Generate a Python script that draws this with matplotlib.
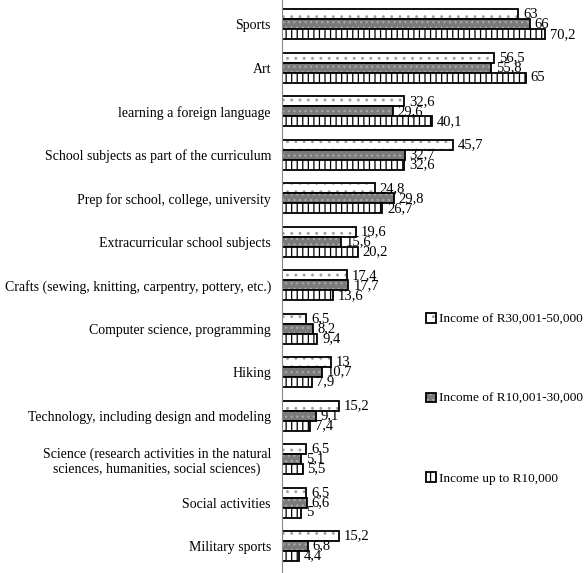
import matplotlib.pyplot as plt
import numpy as np

categories = ["Sports", "Art", "learning a foreign language",
              "School subjects as part of the curriculum",
              "Prep for school, college, university",
              "Extracurricular school subjects",
              "Crafts (sewing, knitting, carpentry, pottery, etc.)",
              "Computer science, programming", "Hiking",
              "Technology, including design and modeling",
              "Science (research activities in the natural\nsciences, humanities, social sciences)",
              "Social activities", "Military sports"]
series_names = ["Income of R30,001-50,000", "Income of R10,001-30,000", "Income up to R10,000"]
income_30_50 = [63, 56.5, 32.6, 45.7, 24.8, 19.6, 17.4, 6.5, 13, 15.2, 6.5, 6.5, 15.2]
income_10_30 = [66, 55.8, 29.6, 32.7, 29.8, 15.6, 17.7, 8.2, 10.7, 9.1, 5.1, 6.6, 6.8]
income_up_10 = [70.2, 65, 40.1, 32.6, 26.7, 20.2, 13.6, 9.4, 7.9, 7.4, 5.5, 5, 4.4]

plt.rcParams['font.family'] = 'Liberation Serif'
plt.rcParams['hatch.linewidth'] = 0.9

fig = plt.figure(figsize=(5.84, 5.73), dpi=100)
ax = fig.add_axes([282 / 584, 0.0, 300 / 584, 1.0])

y = np.arange(len(categories))
h = 0.23
# fill colour, hatch, hatch colour
styles = [('white', '..', '#a0a0a0'),
          ('#7a7a7a', '...', '#a8a8a8'),
          ('white', '|||', 'black')]
allvals = [income_30_50, income_10_30, income_up_10]
handles = []
for k, (vals, (fc, hatch, hc)) in enumerate(zip(allvals, styles)):
    pos = y + (k - 1) * h
    fill = ax.barh(pos, vals, height=h, color=fc, hatch=hatch,
                   edgecolor=hc, linewidth=0)
    edge = ax.barh(pos, vals, height=h, fill=False,
                   edgecolor='black', linewidth=1.3)
    handles.append((fill[0], edge[0]))
    for p, v in zip(pos, vals):
        txt = str(v).replace('.', ',')
        ax.annotate(txt, (v, p), xytext=(3.5, 0), textcoords='offset points',
                    va='center', ha='left', fontsize=10.5)

ax.set_ylim(12.62, -0.56)
ax.set_xlim(0, 80)
ax.set_yticks(y)
ax.set_yticklabels(categories, fontsize=10, multialignment='center')
ax.tick_params(axis='y', length=0, pad=8)
ax.set_xticks([])
for s in ['top', 'right', 'bottom']:
    ax.spines[s].set_visible(False)
ax.spines['left'].set_color('#888888')

fig.legend(handles, series_names, loc='upper left',
           bbox_to_anchor=(421 / 584, 1 - 308 / 573),
           frameon=False, fontsize=9.5, labelspacing=5.1, handlelength=0.7,
           handleheight=0.7, handletextpad=0.3, borderaxespad=0)

fig.savefig('out.png', dpi=100)
